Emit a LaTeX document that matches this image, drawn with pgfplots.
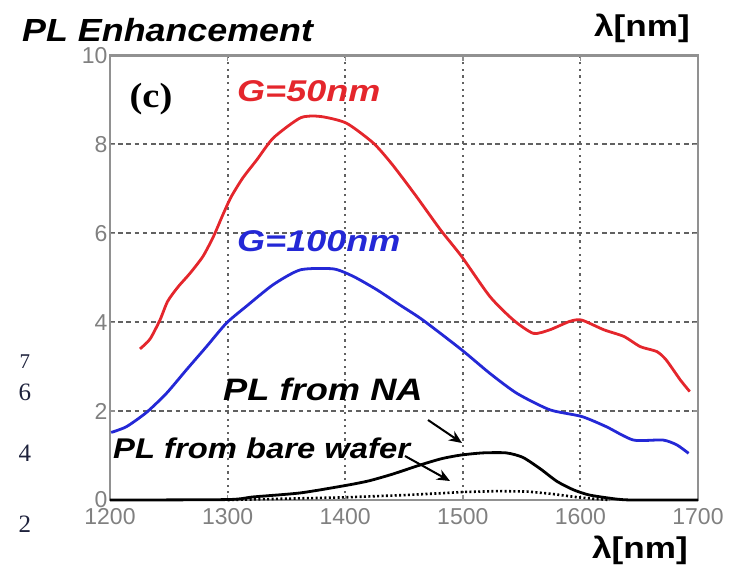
\documentclass[border=0pt]{standalone}
\usepackage{fontspec}
\setmainfont{Liberation Sans}
\newfontfamily\timesfont{Liberation Serif}
\usepackage{pgfplots}
\pgfplotsset{compat=1.18}
\usetikzlibrary{arrows.meta}
\definecolor{plred}{RGB}{228,38,44}
\definecolor{plblue}{RGB}{36,40,214}
\definecolor{ticktext}{RGB}{128,128,128}
\definecolor{framec}{RGB}{145,145,145}
\definecolor{stray}{RGB}{30,34,60}

\begin{document}
\begin{tikzpicture}
\begin{axis}[
  at={(0pt,0pt)}, anchor=south west,
  scale only axis, width=588pt, height=444.4pt,
  xmin=1200, xmax=1700, ymin=0, ymax=10,
  xtick={1200,1300,...,1700}, ytick={0,2,...,10},
  grid=major,
  x grid style={black!62, line width=2pt, dash pattern=on 2.2pt off 4.4pt},
  y grid style={black!62, line width=2pt, dash pattern=on 4.6pt off 3.6pt},
  axis line style={framec, line width=2.4pt},
  tick align=inside, major tick length=5pt,
  tick style={framec, line width=1.4pt},
  /pgf/number format/assume math mode=true,
  /pgf/number format/1000 sep={},
  tick label style={text=ticktext, font=\fontsize{23}{25}\selectfont},
  xticklabel style={yshift=-5pt},
  yticklabel style={xshift=1pt},
  clip=false,
]
% PL from bare wafer
\addplot[black, line width=2.6pt, dash pattern=on 2pt off 2.4pt] coordinates {
(1300,0.0) (1350,0.03) (1400,0.06) (1450,0.11) (1480,0.15) (1500,0.18)
(1530,0.20) (1555,0.19) (1575,0.14) (1595,0.07) (1610,0.03) (1625,0.0)};
% PL from NA
\addplot[black, line width=2.8pt, smooth, tension=0.4] coordinates {
(1200,0) (1300,0.01) (1322,0.07) (1362,0.16) (1401,0.33) (1420,0.43)
(1440,0.58) (1464,0.79) (1482,0.93) (1498,1.01) (1517,1.06) (1537,1.06)
(1551,0.96) (1566,0.70) (1580,0.42) (1594,0.23) (1608,0.11)
(1631,0.02) (1645,0) (1700,0)};
% G=100nm
\addplot[plblue, line width=2.8pt, smooth, tension=0.4] coordinates {
(1201,1.52) (1214,1.65) (1231,1.97) (1248,2.40) (1265,2.93) (1282,3.45)
(1299,3.98) (1316,4.36) (1339,4.85) (1362,5.18) (1390,5.20) (1407,5.03)
(1427,4.73) (1447,4.38) (1466,4.05) (1499,3.38) (1523,2.85) (1546,2.40)
(1574,2.03) (1601,1.88) (1622,1.65) (1645,1.35) (1670,1.35) (1682,1.24)
(1692,1.05)};
% G=50nm
\addplot[plred, line width=2.8pt, smooth, tension=0.4] coordinates {
(1225.5,3.40) (1234,3.62) (1242.5,4.05) (1249,4.47) (1258,4.80) (1268,5.10)
(1279,5.48) (1288,5.93) (1296,6.42) (1303,6.82) (1313,7.25) (1325,7.66)
(1339,8.15) (1362,8.60) (1379,8.63) (1401,8.48)
(1424,8.03) (1440,7.55) (1460,6.85) (1481,6.08) (1499,5.48) (1523,4.58)
(1543,4.05) (1560,3.75) (1574,3.83) (1591,4.02) (1601,4.05) (1620,3.83)
(1637,3.68) (1651,3.45) (1665,3.34) (1673,3.15) (1685,2.70) (1693,2.44)};
\end{axis}

% titles and labels
\node[anchor=west, inner sep=0, xscale=1.12, font=\fontsize{32}{36}\selectfont\bfseries\itshape]
  at (-88pt,470pt) {PL Enhancement};
\node[inner sep=0, xscale=1.17, font=\fontsize{30}{34}\selectfont\bfseries] at (532pt,472pt) {λ[nm]};
\node[inner sep=0, xscale=1.17, font=\fontsize{30}{34}\selectfont\bfseries] at (530pt,-50pt) {λ[nm]};
\node[inner sep=0, xscale=1.1, font=\timesfont\fontsize{35}{38}\selectfont\bfseries] at (41pt,401pt) {(c)};
\node[anchor=west, inner sep=0, xscale=1.2, text=plred, font=\fontsize{30}{34}\selectfont\bfseries\itshape]
  at (127pt,409pt) {G=50nm};
\node[anchor=west, inner sep=0, xscale=1.2, text=plblue, font=\fontsize{30}{34}\selectfont\bfseries\itshape]
  at (127pt,259pt) {G=100nm};
\node[anchor=west, inner sep=0, xscale=1.17, font=\fontsize{31}{35}\selectfont\bfseries\itshape]
  at (113pt,111pt) {PL from NA};
\node[anchor=west, inner sep=0, xscale=1.15, font=\fontsize{28.5}{32}\selectfont\bfseries\itshape]
  at (3pt,52pt) {PL from bare wafer};
\draw[-{Stealth[length=13pt,width=11pt]}, line width=2pt] (318pt,80pt) -- (352pt,57pt);
\draw[-{Stealth[length=13pt,width=11pt]}, line width=2pt] (295pt,44pt) -- (340pt,19pt);

% stray digits at the left margin
\node[inner sep=0, text=stray, font=\timesfont\fontsize{21}{24}\selectfont] at (-85pt,138pt) {7};
\node[inner sep=0, text=stray, font=\timesfont\fontsize{25}{28}\selectfont] at (-85pt,108pt) {6};
\node[inner sep=0, text=stray, font=\timesfont\fontsize{25}{28}\selectfont] at (-85pt,47pt) {4};
\node[inner sep=0, text=stray, font=\timesfont\fontsize{25}{28}\selectfont] at (-85pt,-24pt) {2};

\pgfresetboundingbox
\path[use as bounding box] (-110pt,-71pt) rectangle (632pt,500pt);
\end{tikzpicture}
\end{document}
